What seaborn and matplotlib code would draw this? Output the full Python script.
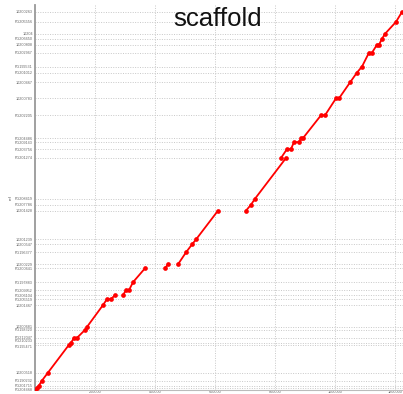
import numpy as np
import pandas as pd
import matplotlib
matplotlib.use("Agg")
import matplotlib.pyplot as plt
import seaborn as sns

# Scaffold boundaries on the reference axis (bp) and their names
scaffold_starts = [6700, 13300, 30000, 56700, 150000, 156700, 173300, 200000,
                   210000, 283300, 303300, 316700, 333300, 360000, 406700,
                   420000, 460000, 486700, 503300, 600000, 620000, 640000,
                   776700, 806700, 830000, 843300, 920000, 976700, 1030000,
                   1063300, 1083300, 1130000, 1156700, 1176700, 1193300,
                   1233300, 1266700]
scaffold_names = ["FG204468", "FG201715", "FG190232", "10200518", "FG195471",
                  "FG210233", "FG212047", "FG198320", "10200681", "10201467",
                  "FG205519", "FG206104", "FG209952", "FG197883", "FG200641",
                  "10200229", "FG196377", "10200547", "10201239", "10201428",
                  "FG207786", "FG208419", "FG201274", "FG203756", "FG209143",
                  "FG204486", "FG202205", "10200783", "10200467", "FG201012",
                  "FG199531", "FG202967", "10200808", "FG206650", "10204",
                  "FG205556", "10200263"]

# Alignment blocks: query position (x) vs reference position (y), bp
block1_x = [0, 6700, 13300, 23300, 43300, 113300, 120000, 130000, 140000,
            166700, 173300, 226700, 240000, 253300, 266700]
block1_y = [0, 6700, 13300, 30000, 56700, 150000, 156700, 173300, 173300,
            200000, 210000, 283300, 303300, 303300, 316700]
block2_x = [293300, 303300, 313300, 326700, 366700]
block2_y = [316700, 333300, 333300, 360000, 406700]
block3_x = [433300, 443300]
block3_y = [406700, 420000]
block4_x = [476700, 503300, 523300, 536700, 610000]
block4_y = [420000, 460000, 486700, 503300, 600000]
block5_x = [703300, 720000, 733300, 836700]
block5_y = [600000, 620000, 640000, 776700]
block6_x = [820000, 840000, 853300, 863300, 880000, 886700, 893300, 953300,
            966700, 1003300, 1013300, 1050000, 1073300, 1090000, 1113300,
            1123300, 1140000, 1146700, 1156700, 1166700, 1203300, 1223300]
block6_y = [776700, 806700, 806700, 830000, 830000, 843300, 843300, 920000,
            920000, 976700, 976700, 1030000, 1063300, 1083300, 1130000,
            1130000, 1156700, 1156700, 1176700, 1193300, 1233300, 1266700]

x_ticks = [200000, 400000, 600000, 800000, 1000000, 1200000]
x_tick_labels = ["200000", "400000", "600000", "800000", "1000000", "1200000"]

blocks = [(block1_x, block1_y), (block2_x, block2_y), (block3_x, block3_y),
          (block4_x, block4_y), (block5_x, block5_y), (block6_x, block6_y)]
frames = []
for i, (bx, by) in enumerate(blocks):
    frames.append(pd.DataFrame({"query": bx, "ref": by, "block": i}))
df = pd.concat(frames, ignore_index=True)

sns.set_style("white")
plt.rcParams["font.family"] = ["Liberation Sans", "DejaVu Sans"]

W, H = 403, 394
fig = plt.figure(figsize=(W / 100, H / 100), dpi=100)
ax = fig.add_axes([35 / W, (H - 389.5) / H, (W - 35) / W, (389.5 - 5) / H])

sns.lineplot(data=df, x="query", y="ref", units="block", estimator=None,
             sort=False, color="#ff0000", linewidth=1.3, marker="o",
             markersize=3.4, markeredgewidth=0, ax=ax, zorder=3)

ax.set_xlim(0, 1226700)
ax.set_ylim(0, 1290000)

ax.set_yticks(scaffold_starts)
ax.set_yticklabels(scaffold_names)
ax.set_xticks(x_ticks)
ax.set_xticklabels(x_tick_labels)
ax.tick_params(axis="both", length=0, labelsize=2.7, colors="#666666")
ax.tick_params(axis="y", pad=1.5)
ax.tick_params(axis="x", pad=0.3)

# nudge labels of scaffolds that sit very close together apart
labels = ax.get_yticklabels()
labels[0].set_verticalalignment("top")
labels[4].set_verticalalignment("top")
labels[5].set_verticalalignment("bottom")

ax.grid(True, color="#c8c8c8", linestyle=(0, (1, 1.5)), linewidth=0.7)
ax.set_axisbelow(True)

for side in ("top", "right"):
    ax.spines[side].set_visible(False)
ax.spines["left"].set_color("#999999")
ax.spines["left"].set_linewidth(1.3)
ax.spines["bottom"].set_color("#bbbbbb")
ax.spines["bottom"].set_linewidth(0.8)

ax.set_xlabel("")
ax.set_ylabel("ref", fontsize=3, color="#555555", labelpad=1.5)

fig.text(218 / W, 1 - 26 / H, "scaffold", ha="center", va="baseline",
         fontsize=18.5, color="#111111")

fig.savefig("out.png", dpi=100)
